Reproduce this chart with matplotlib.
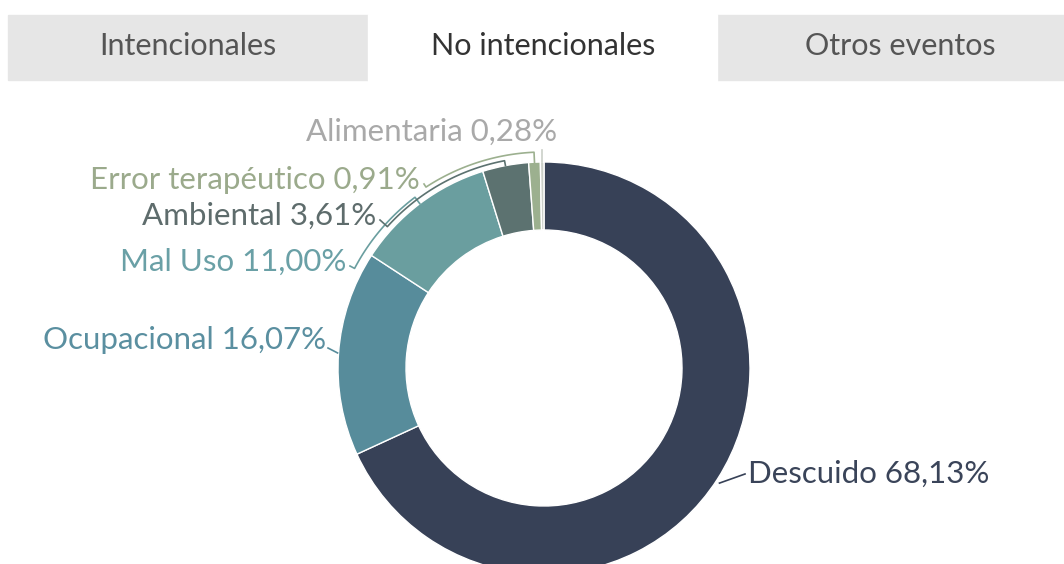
import numpy as np
import matplotlib
matplotlib.use("Agg")
import matplotlib.pyplot as plt
from matplotlib.patches import Rectangle

plt.rcParams["font.family"] = ["Lato", "DejaVu Sans"]

# DATA
categories = ["Descuido", "Ocupacional", "Mal Uso", "Ambiental",
              "Error terapéutico", "Alimentaria"]
values = [68.13, 16.07, 11.00, 3.61, 0.91, 0.28]
tabs = ["Intencionales", "No intencionales", "Otros eventos"]

slice_colors = ["#374157", "#578c9b", "#6a9e9f", "#5c7270", "#9cb08f", "#cbcfc8"]
label_colors = ["#3a4459", "#5a8fa0", "#6aa0a6", "#5e6c6c", "#9baa8c", "#a9a9a9"]

W, H = 1064, 564
fig = plt.figure(figsize=(W / 100, H / 100), dpi=100)
ax = fig.add_axes([0, 0, 1, 1])


def py(y):
    # pixel row from top -> data y
    return H - y


# TABS
ax.add_patch(Rectangle((8, py(80)), W - 8, 65, color="#e6e6e6", zorder=0))
ax.add_patch(Rectangle((368, py(82)), 349, 68, color="white", zorder=1))
tab_x = [188, 543, 900]
for name, tx, col in zip(tabs, tab_x, ["#555555", "#333333", "#555555"]):
    ax.text(tx, py(46), name, ha="center", va="center", fontsize=22, color=col, zorder=2)

# DONUT
cx, cy = 544, py(368)
R, ring = 206, 68
wedges, _ = ax.pie(values, colors=slice_colors, startangle=90, counterclock=False,
                   center=(cx, cy), radius=R, frame=True,
                   wedgeprops=dict(width=ring, edgecolor="white", linewidth=1))
ax.set_xlim(0, W)
ax.set_ylim(0, H)
ax.set_aspect("equal")
ax.axis("off")

# label text anchor (pixel coords), alignment, connector arc radius
label_pos = {
    "Descuido": (748, 474, "left", None),
    "Ocupacional": (326, 340, "right", None),
    "Mal Uso": (346, 262, "right", 214),
    "Ambiental": (376, 216, "right", 211),
    "Error terapéutico": (420, 180, "right", 216),
    "Alimentaria": (557, 132, "right", None),
}

cum = np.cumsum([0] + values[:-1])
for i, (name, v) in enumerate(zip(categories, values)):
    mid = (90 - (cum[i] + v / 2) * 3.6) % 360
    th = np.deg2rad(mid)
    ex, ey = cx + R * np.cos(th), cy + R * np.sin(th)
    lx, ly, ha, rarc = label_pos[name]
    txt = f"{name} {v:.2f}%".replace(".", ",")
    ax.text(lx, py(ly), txt, ha=ha, va="center", fontsize=22.5, color=label_colors[i])
    lc = slice_colors[i]
    if name == "Descuido":
        xs, ys = [lx - 3, ex + 2], [py(ly), ey - 4]
    elif name == "Ocupacional":
        xs, ys = [lx + 2, ex - 1], [py(ly + 8), ey]
    elif name == "Alimentaria":
        xs, ys = [ex, ex], [py(ly + 18), ey]
    else:
        sx, sy = lx + 4, py(ly + 4)
        a0 = np.arctan2(sy - cy, sx - cx) % (2 * np.pi)
        angs = np.linspace(a0, th, 40)
        xs = [sx] + list(cx + rarc * np.cos(angs)) + [ex]
        ys = [sy] + list(cy + rarc * np.sin(angs)) + [ey]
    ax.plot(xs, ys, color=lc, lw=1.2, zorder=3)

fig.savefig("out.png", dpi=100, facecolor="white")
